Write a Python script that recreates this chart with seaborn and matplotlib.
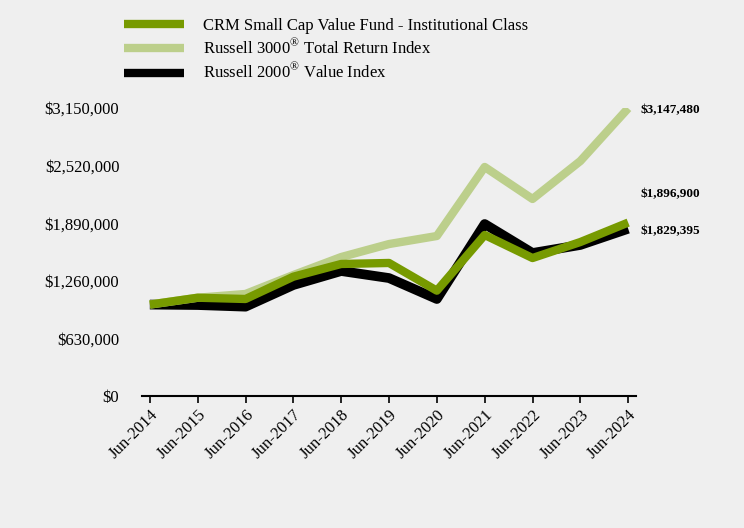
import matplotlib
matplotlib.use("Agg")
import matplotlib.pyplot as plt
import seaborn as sns
import pandas as pd
from matplotlib.ticker import FuncFormatter

# Growth of $1,000,000 investment
years = ["Jun-2014", "Jun-2015", "Jun-2016", "Jun-2017", "Jun-2018", "Jun-2019",
         "Jun-2020", "Jun-2021", "Jun-2022", "Jun-2023", "Jun-2024"]
fund = [1000000, 1075000, 1061000, 1305000, 1444000, 1455000,
        1152000, 1761000, 1509000, 1684000, 1896900]
russell_3000 = [1000000, 1075000, 1116000, 1323000, 1520000, 1662000,
                1750000, 2505000, 2155000, 2570000, 3147480]
russell_2000v = [1000000, 995000, 977000, 1214000, 1367000, 1290000,
                 1061000, 1881000, 1564000, 1652000, 1829395]
y_ticks = [0, 630000, 1260000, 1890000, 2520000, 3150000]

fund_name = "CRM Small Cap Value Fund - Institutional Class"
r3000_name = "Russell 3000$^{®}$ Total Return Index"
r2000_name = "Russell 2000$^{®}$ Value Index"

df = pd.DataFrame({"x": range(len(years)), "fund": fund,
                   "r3000": russell_3000, "r2000": russell_2000v})

sns.set_style("white")
plt.rcParams["font.family"] = ["Liberation Serif", "DejaVu Serif"]
plt.rcParams["mathtext.fontset"] = "custom"
plt.rcParams["mathtext.rm"] = "Liberation Serif"
plt.rcParams["text.color"] = "black"
plt.rcParams["xtick.color"] = "black"
plt.rcParams["ytick.color"] = "black"

bg = "#efefef"
dark_green = "#779a00"
light_green = "#bccf8b"

fig = plt.figure(figsize=(7.44, 5.28), dpi=100, facecolor=bg)
ax = fig.add_axes([150 / 744 - 0.0105, 1 - 396 / 528, 0.6635, 288 / 528])
ax.set_facecolor(bg)

sns.lineplot(data=df, x="x", y="r2000", ax=ax, color="black", linewidth=7.0,
             zorder=1, label=r2000_name, solid_capstyle="butt")
sns.lineplot(data=df, x="x", y="r3000", ax=ax, color=light_green, linewidth=6.0,
             zorder=2, label=r3000_name, solid_capstyle="butt")
sns.lineplot(data=df, x="x", y="fund", ax=ax, color=dark_green, linewidth=6.0,
             zorder=3, label=fund_name, solid_capstyle="butt")

ax.set_xlim(-0.16, 10.16)
ax.set_ylim(0, 3150000)
ax.set_xticks(range(len(years)))
ax.set_xticklabels(years, rotation=45, ha="right", rotation_mode="anchor", fontsize=12)
ax.set_yticks(y_ticks)
ax.yaxis.set_major_formatter(FuncFormatter(lambda v, p: f"${v:,.0f}"))
ax.tick_params(axis="y", length=0, labelsize=12, pad=16.5)
ax.tick_params(axis="x", length=5, width=1.2, direction="out", color="black", pad=3,
               bottom=True)
ax.set_xlabel("")
ax.set_ylabel("")
for s in ["top", "right", "left"]:
    ax.spines[s].set_visible(False)
ax.spines["bottom"].set_color("black")
ax.spines["bottom"].set_linewidth(1.5)

# end value labels
last = len(years) - 1
ax.annotate(f"${russell_3000[-1]:,}", (last, russell_3000[-1]), xytext=(9, -1.5),
            textcoords="offset points", va="center", fontsize=9.5, fontweight="bold")
ax.annotate(f"${fund[-1]:,}", (last, fund[-1]), xytext=(9, 20.5),
            textcoords="offset points", va="center", fontsize=9.5, fontweight="bold")
ax.annotate(f"${russell_2000v[-1]:,}", (last, russell_2000v[-1]), xytext=(9, -1.5),
            textcoords="offset points", va="center", fontsize=9.5, fontweight="bold")

handles, labels = ax.get_legend_handles_labels()
order = [labels.index(fund_name), labels.index(r3000_name), labels.index(r2000_name)]
leg = ax.legend([handles[i] for i in order], [labels[i] for i in order],
                loc="upper left", bbox_to_anchor=(0.158, 0.979),
                bbox_transform=fig.transFigure, frameon=False,
                fontsize=12, handlelength=3.6, handletextpad=1.1, labelspacing=0.27,
                borderaxespad=0)
for h in leg.get_lines():
    h.set_linewidth(6)
    h.set_solid_capstyle("butt")

fig.savefig("out.png", dpi=100, facecolor=bg)
